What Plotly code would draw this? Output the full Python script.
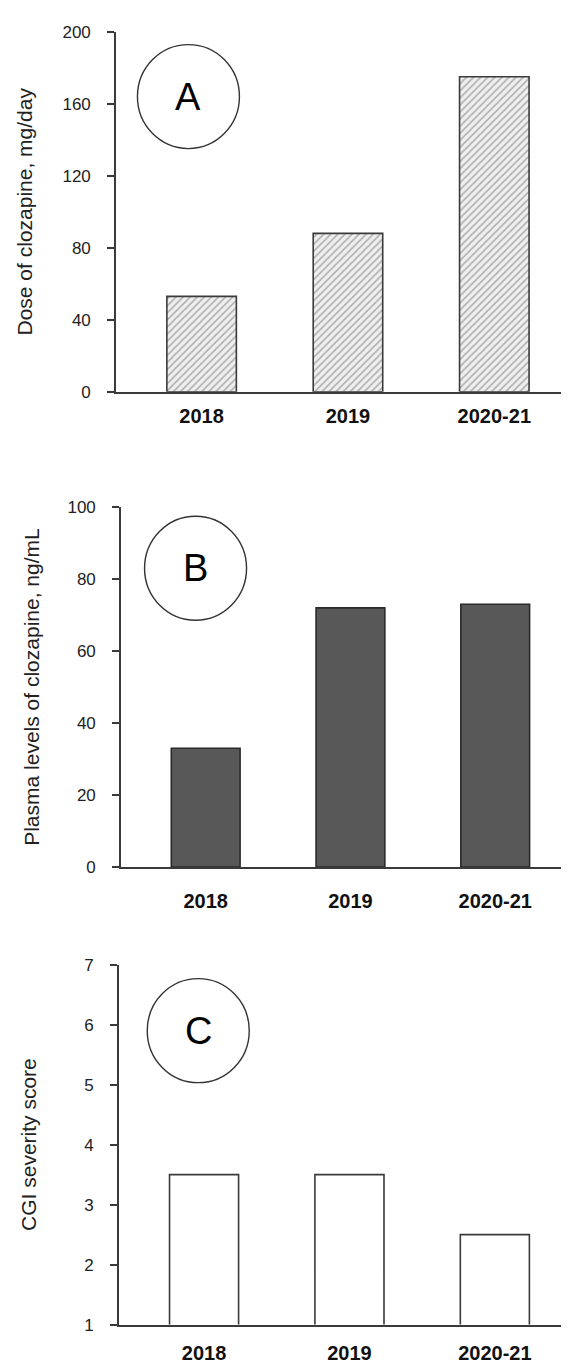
import plotly.graph_objects as go

categories = ["2018", "2019", "2020-21"]
dose_mg_day = [53, 88, 175]
plasma_ng_ml = [33, 72, 73]
cgi_score = [3.5, 3.5, 2.5]

dose_ticks = [0, 40, 80, 120, 160, 200]
plasma_ticks = [0, 20, 40, 60, 80, 100]
cgi_ticks = [1, 2, 3, 4, 5, 6, 7]

panel_letters = ["A", "B", "C"]
y_titles = ["Dose of clozapine, mg/day", "Plasma levels of clozapine, ng/mL", "CGI severity score"]

H = 1367
W = 569
FONT = "Liberation Sans, Arial, sans-serif"
LINE = "#3a3a3a"

fig = go.Figure()

fig.add_trace(go.Bar(
    x=categories, y=dose_mg_day, xaxis="x", yaxis="y", width=0.475,
    marker=dict(color="white", line=dict(color=LINE, width=1.6),
                pattern=dict(shape="/", fgcolor="#777777", bgcolor="#f0f0f0", size=5, solidity=0.35)),
    showlegend=False))
fig.add_trace(go.Bar(
    x=categories, y=plasma_ng_ml, xaxis="x2", yaxis="y2", width=0.475,
    marker=dict(color="#585858", line=dict(color="#2a2a2a", width=1.6)),
    showlegend=False))
fig.add_trace(go.Bar(
    x=categories, y=cgi_score, base=0, xaxis="x3", yaxis="y3", width=0.475,
    marker=dict(color="white", line=dict(color=LINE, width=1.6)),
    showlegend=False))

def ydom(top_px, bot_px):
    return [1 - bot_px / H, 1 - top_px / H]

panels = [
    dict(xd=[108 / W, 1.0], yd=ydom(15, 380), yr=[0, 200], ticks=dose_ticks, xso=5, tso=24),
    dict(xd=[113 / W, 1.0], yd=ydom(497, 862), yr=[0, 100], ticks=plasma_ticks, xso=15, tso=22),
    dict(xd=[111 / W, 1.0], yd=ydom(961, 1326), yr=[1, 7], ticks=cgi_ticks, xso=10, tso=42),
]

layout = dict(
    width=W, height=H, margin=dict(l=0, r=0, t=0, b=0),
    paper_bgcolor="white", plot_bgcolor="white",
    font=dict(family=FONT, color="#111"),
)

for i, p in enumerate(panels):
    sx = "" if i == 0 else str(i + 1)
    layout["xaxis" + sx] = dict(
        domain=p["xd"], anchor="y" + sx, type="category",
        range=[-0.585, 2.565], showline=True, linecolor=LINE, linewidth=1.6,
        ticks="", showgrid=False, zeroline=False,
        tickfont=dict(family=FONT, size=20, color="#111", weight="bold"),
        ticklabelstandoff=p["xso"],
    )
    layout["yaxis" + sx] = dict(
        domain=p["yd"], anchor="x" + sx, range=p["yr"],
        tickvals=p["ticks"], showline=True, linecolor=LINE, linewidth=1.6,
        ticks="outside", ticklen=7, tickwidth=1.6, tickcolor=LINE,
        showgrid=False, zeroline=False,
        tickfont=dict(family=FONT, size=17, color="#222"),
        ticklabelstandoff=13,
        title=dict(text=y_titles[i], font=dict(family=FONT, size=21, color="#222"), standoff=p["tso"]),
    )

fig.update_layout(**layout)

circle_centers = [(-0.09, 164), (-0.07, 83), (-0.04, 5.9)]
for i, (cx, cy) in enumerate(circle_centers):
    sx = "" if i == 0 else str(i + 1)
    fig.add_shape(type="circle", xref="x" + sx, yref="y" + sx,
                  xsizemode="pixel", ysizemode="pixel", xanchor=cx, yanchor=cy,
                  x0=-51, x1=51, y0=-52, y1=52,
                  line=dict(color="#333", width=1.4), fillcolor="rgba(0,0,0,0)")
    fig.add_annotation(x=cx, y=cy, xref="x" + sx, yref="y" + sx, text=panel_letters[i],
                       showarrow=False, font=dict(family=FONT, size=38, color="black"))

fig.write_html("out.html")
